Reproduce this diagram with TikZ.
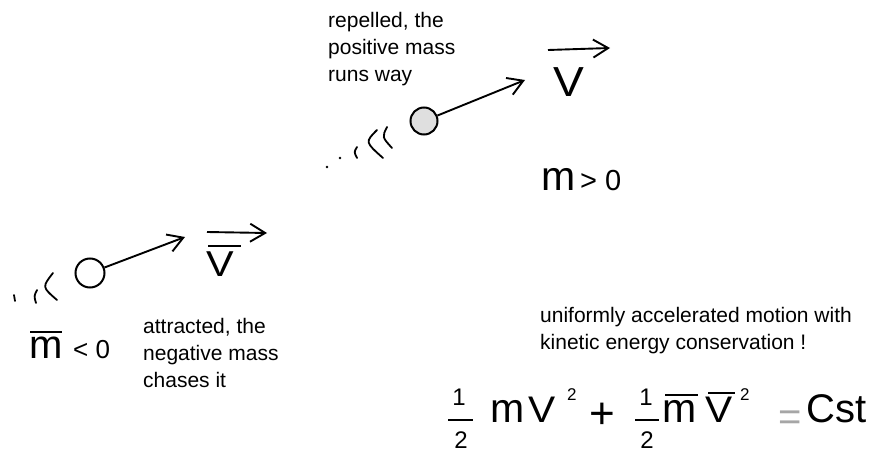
\documentclass[tikz,border=0pt]{standalone}
\usepackage{fontspec}
\setmainfont{Liberation Sans}
\usetikzlibrary{arrows.meta}

\tikzset{
  mass/.style={circle,draw,line width=2pt,minimum size=27pt,inner sep=0pt},
  vec/.style={line width=1.9pt,-{Straight Barb[length=15pt,width=18pt,line width=1.9pt]}},
  trail/.style={line width=1.8pt,line cap=round},
  note/.style={align=left,inner sep=0pt,anchor=north west,font=\fontsize{21}{27}\selectfont},
  sym/.style={inner sep=0pt,anchor=base west},
  digit/.style={inner sep=0pt,anchor=base,font=\fontsize{24}{24}\selectfont},
  bar/.style={line width=1.6pt},
}
\newcommand{\wideV}[1]{\scalebox{#1}[1]{V}}

\begin{document}
\begin{tikzpicture}[x=1pt,y=-1pt]
  \useasboundingbox (0,0) rectangle (871,452);

  % positive mass (upper part)
  \node[note] (repelled) at (328,12) {repelled, the\\positive mass\\runs way};
  \node[mass,fill=gray!25] (mpos) at (424,121) {};
  \coordinate (tippos) at (525,80);
  \draw[vec] (mpos) -- (tippos);
  \node[sym,font=\fontsize{42}{42}\selectfont] (vpos) at (553,96) {\wideV{1.1}};
  \draw[vec] (548,50) -- (610,48);
  \node[sym,font=\fontsize{41}{41}\selectfont] (mposlbl) at (541,190) {m};
  \node[sym,font=\fontsize{29}{29}\selectfont] (gt) at (580,190) {> 0};
  % trail behind it
  \fill (327,167) circle (1.4pt);
  \fill (340,158) circle (1.4pt);
  \draw[trail] (357,147) .. controls (354,152) .. (357,158);
  \draw[trail] (377,130) .. controls (365,142) .. (383,158);
  \draw[trail] (387,127) .. controls (382,137) .. (392,148);

  % negative mass (lower part)
  \node[mass,minimum size=29pt] (mneg) at (90,273) {};
  \coordinate (tipneg) at (185,237);
  \draw[vec] (mneg) -- (tipneg);
  \node[sym,font=\fontsize{36}{36}\selectfont] (vneg) at (206,276) {\wideV{1.15}};
  \draw[bar] (208,246) -- (241,246);
  \draw[vec] (207,232) -- (267,233);
  \node[sym,font=\fontsize{40}{40}\selectfont] (mneglbl) at (29,358) {m};
  \draw[bar] (30,332) -- (62,332);
  \node[sym,font=\fontsize{26}{26}\selectfont] (lt) at (73,358) {< 0};
  \node[note] (attracted) at (143,318) {attracted, the\\negative mass\\chases it};
  % trail behind it
  \draw[trail] (14,295) -- (15,301);
  \draw[trail] (37,290) .. controls (34,296) .. (36,303);
  \draw[trail] (53,273) .. controls (42,287) .. (57,300);

  % energy conservation
  \node[note] (motion) at (540,307) {uniformly accelerated motion with\\kinetic energy conservation !};
  \node[digit] (num1) at (459,405) {1};
  \draw[bar] (448,420) -- (473,420);
  \node[digit] (den1) at (461,448) {2};
  \node[sym,font=\fontsize{41}{41}\selectfont] (meq) at (490,422) {m};
  \node[sym,font=\fontsize{37}{37}\selectfont] (veq) at (528,422) {\wideV{1.1}};
  \node[sym,font=\fontsize{17}{17}\selectfont] (sq1) at (567,400) {2};
  \node[sym,font=\fontsize{44}{44}\selectfont] (plus) at (589,428) {+};
  \node[digit] (num2) at (646,405) {1};
  \draw[bar] (635,420) -- (659,420);
  \node[digit] (den2) at (647,448) {2};
  \node[sym,font=\fontsize{41}{41}\selectfont] (mbareq) at (662,422) {m};
  \draw[bar] (665,395) -- (698,395);
  \node[sym,font=\fontsize{37}{37}\selectfont] (vbareq) at (705,422) {\wideV{1.1}};
  \draw[bar] (708,393) -- (735,393);
  \node[sym,font=\fontsize{17}{17}\selectfont] (sq2) at (740,400) {2};
  \node[sym,font=\fontsize{40}{40}\selectfont,text=gray!70] (eq) at (778,430) {=};
  \node[sym,font=\fontsize{40}{40}\selectfont] (cst) at (806,422) {Cst};
\end{tikzpicture}
\end{document}
